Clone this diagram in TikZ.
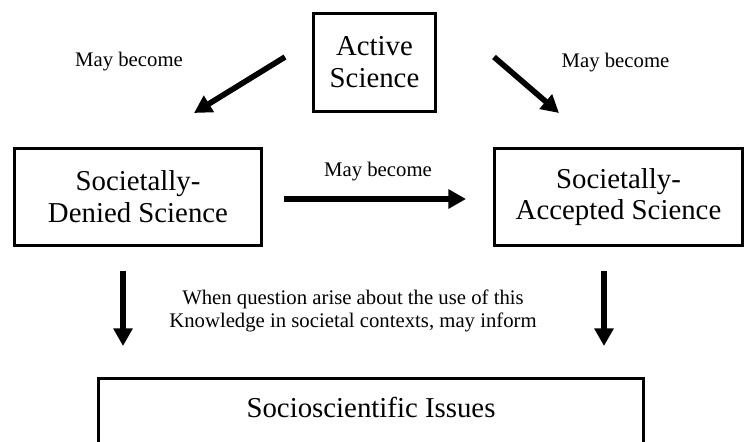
\documentclass[tikz,border=0pt]{standalone}
\usepackage{fontspec}
\setmainfont{Liberation Serif}
\usetikzlibrary{arrows.meta}

\begin{document}
\begin{tikzpicture}[x=0.02cm, y=-0.02cm,
        box/.style = {draw,
            line width = 1.7pt,
            inner sep = 0pt,
            outer sep = 0pt,
            align = center,
            font = \fontsize{16.4}{18.1}\selectfont,
        },
        note/.style = {align = center,
            font = \fontsize{11.8}{13}\selectfont,
        },
        flow/.style = {line width = 3.2pt,
            -{Triangle[length=10pt,width=10.5pt]},
        }]

        \useasboundingbox (0,0) rectangle (744,442);
        \clip (0,0) rectangle (744,442);

        % Science boxes
        \node[box, minimum width=2.44cm, minimum height=1.96cm] (active) at (374.5,62.5) {Active\\Science};
        \node[box, minimum width=4.94cm, minimum height=1.94cm] (denied) at (138,197) {Societally-\\Denied Science};
        \node[box, minimum width=4.96cm, minimum height=1.94cm] (accepted) at (618.5,197) {Societally-\\Accepted Science};

        % Issues box, runs off the bottom
        \node[box, anchor=north, minimum width=10.9cm, inner ysep=0.39cm,
            text height=0.4cm, text depth=1.2cm] (ssi) at (371,378.5) {Socioscientific Issues};

        % Arrow ends
        \coordinate (ad0) at (285,57);
        \coordinate (ad1) at (194,113);
        \coordinate (aa0) at (494,57);
        \coordinate (aa1) at (559,113);
        \coordinate (da0) at (284,199);
        \coordinate (da1) at (466,199);
        \coordinate (ds0) at (123,271);
        \coordinate (ds1) at (123,346);
        \coordinate (as0) at (604,271);
        \coordinate (as1) at (604,346);

        \draw[flow] (ad0) -- (ad1);
        \draw[flow] (aa0) -- (aa1);
        \draw[flow] (da0) -- (da1);
        \draw[flow] (ds0) -- (ds1);
        \draw[flow] (as0) -- (as1);

        % Labels
        \node[note] (lblleft) at (129,62) {May become};
        \node[note] (lblright) at (615.5,63) {May become};
        \node[note] (lblmid) at (378,172) {May become};
        \node[note] (lblinform) at (353,311) {When question arise about the use of this\\Knowledge in societal contexts, may inform};

    \end{tikzpicture}
\end{document}
